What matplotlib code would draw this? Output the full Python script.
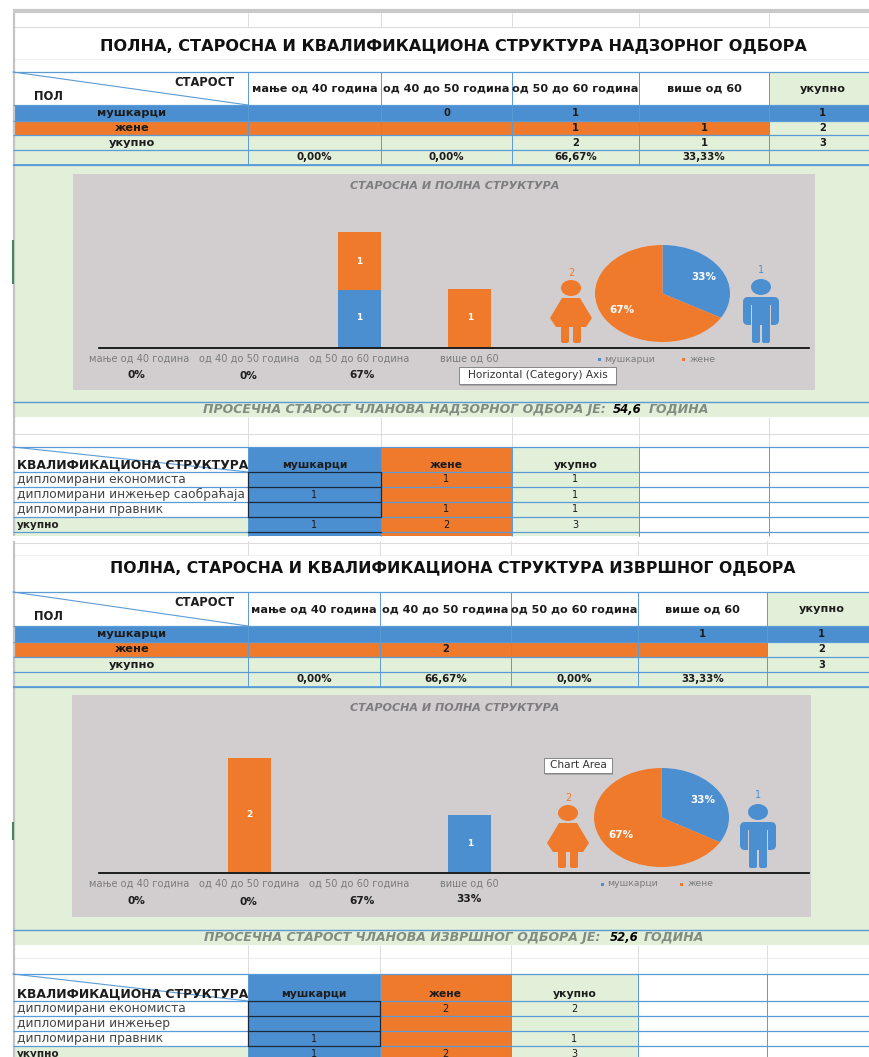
"""Spreadsheet screenshot: board structure tables with bar and pie charts."""

import matplotlib
matplotlib.use("Agg")
import matplotlib.pyplot as plt
from matplotlib.patches import Ellipse, FancyBboxPatch, Polygon, Rectangle

BLUE = "#4b8fd1"
ORANGE = "#f07a2b"
GREEN = "#e2efd9"
CHART_GREY = "#d2ced0"
GRID = "#5b9bd5"
LIGHT = "#dcdcdc"
TEXT = "#1c1c1c"
CELL_FONT = ["DejaVu Sans"]

W, H = 870, 1057

age_labels = ["мање од 40 година", "од 40 до 50 година", "од 50 до 60 година", "више од 60"]
chart_age_labels = ["мање од 40 година", "од 40 до 50 година", "од 50 до 60 година", "више од 60"]
row_labels = ["мушкарци", "жене", "укупно"]

sup_title = "ПОЛНА, СТАРОСНА И КВАЛИФИКАЦИОНА СТРУКТУРА НАДЗОРНОГ ОДБОРА"
sup_men = ["", "0", "1", "", "1"]
sup_women = ["", "", "1", "1", "2"]
sup_total = ["", "", "2", "1", "3"]
sup_share = ["0,00%", "0,00%", "66,67%", "33,33%", ""]
sup_bar_men = [0, 0, 1, 0]
sup_bar_women = [0, 0, 1, 1]
sup_pct_row = ["0%", "0%", "67%", ""]
sup_pie = [1, 2]
sup_avg_text = "ПРОСЕЧНА СТАРОСТ ЧЛАНОВА НАДЗОРНОГ ОДБОРА ЈЕ:"
sup_avg = "54,6"
sup_qual = ["дипломирани економиста", "дипломирани инжењер саобраћаја", "дипломирани правник", "укупно"]
sup_qual_men = ["", "1", "", "1"]
sup_qual_women = ["1", "", "1", "2"]
sup_qual_total = ["1", "1", "1", "3"]

exe_title = "ПОЛНА, СТАРОСНА И КВАЛИФИКАЦИОНА СТРУКТУРА ИЗВРШНОГ ОДБОРА"
exe_men = ["", "", "", "1", "1"]
exe_women = ["", "2", "", "", "2"]
exe_total = ["", "", "", "", "3"]
exe_share = ["0,00%", "66,67%", "0,00%", "33,33%", ""]
exe_bar_men = [0, 0, 0, 1]
exe_bar_women = [0, 2, 0, 0]
exe_pct_row = ["0%", "0%", "67%", "33%"]
exe_pie = [1, 2]
exe_avg_text = "ПРОСЕЧНА СТАРОСТ ЧЛАНОВА ИЗВРШНОГ ОДБОРА ЈЕ:"
exe_avg = "52,6"
exe_qual = ["дипломирани економиста", "дипломирани инжењер", "дипломирани правник", "укупно"]
exe_qual_men = ["", "", "1", "1"]
exe_qual_women = ["2", "", "", "2"]
exe_qual_total = ["2", "", "1", "3"]

fig = plt.figure(figsize=(W / 100, H / 100), dpi=100, facecolor="white")
sheet = fig.add_axes([0, 0, 1, 1])
sheet.set_xlim(0, W)
sheet.set_ylim(H, 0)
sheet.axis("off")


def rect(x0, y0, x1, y1, color, z=1):
    sheet.add_patch(Rectangle((x0, y0), x1 - x0, y1 - y0, facecolor=color, edgecolor="none", zorder=z))


def hline(y, x0=13, x1=W, color=GRID, lw=0.9, z=3):
    sheet.plot([x0, x1], [y, y], color=color, lw=lw, zorder=z, solid_capstyle="butt")


def vline(x, y0, y1, color=GRID, lw=0.7, z=3):
    sheet.plot([x, x], [y0, y1], color=color, lw=lw, zorder=z, solid_capstyle="butt")


def cell(x, y, s, size=7.2, bold=True, ha="center", color=TEXT):
    sheet.text(x, y, s, fontsize=size, fontweight="bold" if bold else "normal", ha=ha, va="center",
               color=color, family=CELL_FONT, zorder=5)


def age_table(cols, ys, men, women, total, share):
    # ys = header top, header bottom, then the lower edge of each of the four rows
    top, head, r1, r2, r3, r4 = ys
    rect(13, head, W, r1, BLUE)
    rect(13, r1, cols[4], r2, ORANGE)
    rect(cols[4], r1, W, r2, GREEN)
    rect(13, r2, W, r4, GREEN)
    rect(cols[4], top, W, head, GREEN)
    for y in ys:
        hline(y)
    hline(r4, lw=1.3)
    for x in cols[:5]:
        vline(x, top, r4)
    sheet.plot([13, cols[0]], [top, head], color=GRID, lw=0.8, zorder=3)
    cell(235, top + 11, "СТАРОСТ", size=8.3, ha="right")
    cell(34, top + 25, "ПОЛ", size=8.3, ha="left")
    centers = [(a + b) / 2 for a, b in zip(cols[:4], cols[1:5])] + [(cols[4] + W) / 2 + 3]
    for c, lab in zip(centers, age_labels + ["укупно"]):
        cell(c, (top + head) / 2, lab, size=8.1)
    for i, (lab, vals, r) in enumerate(zip(row_labels, [men, women, total], [(head, r1), (r1, r2), (r2, r3)])):
        y = sum(r) / 2
        cell(132, y, lab, size=8.2)
        for c, v in zip(centers, vals):
            cell(c, y, v)
    for c, v in zip(centers, share):
        cell(c, (r3 + r4) / 2, v, size=7.4)


def qual_table(cols, ys, labels, men, women, total, cut):
    top, head = ys[0], ys[1]
    rect(cols[0], top, cols[1], cut, BLUE)
    rect(cols[1], top, cols[2], cut, ORANGE)
    rect(cols[2], top, cols[3], cut, GREEN)
    rect(13, ys[4], cols[0], cut, GREEN)
    for y in ys:
        if y <= H:
            hline(y)
    for x in cols:
        vline(x, top, cut)
    sheet.plot([13, cols[0]], [top, head], color=GRID, lw=0.8, zorder=3)
    cell(17, head - 7, "КВАЛИФИКАЦИОНА СТРУКТУРА", size=8.9, ha="left")
    centers = [(a + b) / 2 for a, b in zip(cols[:3], cols[1:4])]
    for c, lab in zip(centers, ["мушкарци", "жене", "укупно"]):
        cell(c, head - 7, lab, size=7.8)
    for y in ys[1:]:
        sheet.plot([cols[0], cols[1]], [y, y], color="#1b2a3a", lw=0.9, zorder=4)
    vline(cols[0], head, ys[4], color="#1b2a3a", lw=0.9)
    vline(cols[1], head, ys[4], color="#1b2a3a", lw=0.9)
    for i, lab in enumerate(labels):
        y = (ys[i + 1] + min(ys[i + 2], cut)) / 2
        if ys[i + 2] > H:
            y = ys[i + 1] + 8
        is_total = lab == "укупно"
        cell(17, y, lab, size=7.6 if is_total else 8.8, bold=is_total, ha="left", color="#222222" if is_total else "#444444")
        for c, v in zip(centers, [men[i], women[i], total[i]]):
            cell(c, y, v, size=7, bold=False)


def person(cx, head_y, feet_y, color, dress):
    sheet.add_patch(Ellipse((cx, head_y), 20, 16, facecolor=color, edgecolor="none", zorder=5))
    top = head_y + 10
    if dress:
        sheet.add_patch(Polygon([(cx - 9, top), (cx + 9, top), (cx + 21, top + 20), (cx + 15, top + 29), (cx - 15, top + 29),
                                 (cx - 21, top + 20)],
                                facecolor=color, edgecolor="none", zorder=5))
        for dx in (-10, 2):
            sheet.add_patch(FancyBboxPatch((cx + dx, top + 26), 8, feet_y - top - 26, boxstyle="round,pad=0,rounding_size=2",
                                           facecolor=color, edgecolor="none", zorder=5))
    else:
        sheet.add_patch(FancyBboxPatch((cx - 18, top), 36, 28, boxstyle="round,pad=0,rounding_size=5",
                                       facecolor=color, edgecolor="none", zorder=5))
        sheet.add_patch(Rectangle((cx - 10, top + 8), 1.2, 21, facecolor=CHART_GREY, zorder=6))
        sheet.add_patch(Rectangle((cx + 9, top + 8), 1.2, 21, facecolor=CHART_GREY, zorder=6))
        for dx in (-9, 1):
            sheet.add_patch(FancyBboxPatch((cx + dx, top + 24), 8, feet_y - top - 24, boxstyle="round,pad=0,rounding_size=2",
                                           facecolor=color, edgecolor="none", zorder=5))


def px_axes(x0, y0, x1, y1):
    ax = fig.add_axes([x0 / W, 1 - y1 / H, (x1 - x0) / W, (y1 - y0) / H])
    ax.patch.set_alpha(0)
    return ax


def bar_chart(x0, x1, base, men, women, tick_labels):
    unit = 57
    ax = px_axes(x0, base - 2.2 * unit, x1, base)
    xs = range(len(men))
    bar_m = ax.bar(xs, men, width=0.39, color=BLUE)
    bar_w = ax.bar(xs, women, width=0.39, bottom=men, color=ORANGE)
    for bars, vals in ((bar_m, men), (bar_w, women)):
        ax.bar_label(bars, labels=[str(v) if v else "" for v in vals], label_type="center",
                     color="white", fontsize=6.5, fontweight="bold", family=CELL_FONT)
    ax.set_xlim(-0.5, len(men) - 0.5)
    ax.set_ylim(0, 2.2)
    ax.set_yticks([])
    ax.set_xticks(list(xs), tick_labels, fontsize=7.1, color="#7b7b7b", family=CELL_FONT)
    ax.tick_params(axis="x", length=0, pad=5)
    for s in ax.spines.values():
        s.set_visible(False)


def pie_chart(x0, y0, x1, y1, vals):
    ax = px_axes(x0, y0, x1, y1)
    ax.pie(vals, colors=[BLUE, ORANGE], startangle=90, counterclock=False, autopct="%1.0f%%", pctdistance=0.7,
           textprops={"color": "white", "fontsize": 7.5, "fontweight": "bold", "family": CELL_FONT})
    ax.set_aspect("auto")
    ax.set_xlim(-1, 1)
    ax.set_ylim(-1, 1)


def tooltip(x0, y0, x1, y1, s):
    sheet.add_patch(Rectangle((x0 + 1.5, y0 + 1.5), x1 - x0, y1 - y0, facecolor="#a8a8a8", edgecolor="none", zorder=7))
    sheet.add_patch(Rectangle((x0, y0), x1 - x0, y1 - y0, facecolor="white", edgecolor="#777777", lw=0.6, zorder=8))
    sheet.text((x0 + x1) / 2, (y0 + y1) / 2, s, fontsize=7.6, color="#333333", ha="center", va="center",
               family=CELL_FONT, zorder=9)


def chart_panel(box, axis_y, title_y, label_men_x, label_women_x, pct_xs, pct_ys, men, women, pct_row, pie, pie_box,
                woman, man):
    x0, y0, x1, y1 = box
    rect(x0, y0, x1, y1, CHART_GREY, z=2)
    sheet.text(455, title_y, "СТАРОСНА И ПОЛНА СТРУКТУРА", fontsize=8, style="italic",
               fontweight="bold", color="#7d7d80", ha="center", va="center", family=CELL_FONT, zorder=4)
    sheet.plot([99, 809], [axis_y, axis_y], color="black", lw=1.2, zorder=4)
    bar_chart(84, 525, axis_y - 1.5, men, women, chart_age_labels)
    pie_chart(*pie_box, pie)
    person(woman[0], woman[1], axis_y - 5, ORANGE, True)
    person(man[0], man[1], axis_y - 5, BLUE, False)
    sheet.text(woman[0], woman[1] - 15, str(pie[1]), fontsize=7, color=ORANGE, ha="center", va="center", zorder=5)
    sheet.text(man[0], man[1] - 17, str(pie[0]), fontsize=7, color=BLUE, ha="center", va="center", zorder=5)
    leg_y = axis_y + 11
    rect(label_men_x - 32, leg_y - 1, label_men_x - 29, leg_y + 2, BLUE, z=4)
    rect(label_women_x - 21, leg_y - 1, label_women_x - 18, leg_y + 2, ORANGE, z=4)
    sheet.text(label_men_x, leg_y, row_labels[0], fontsize=6.7, color="#7b7b7b", ha="center", va="center",
               family=CELL_FONT, zorder=4)
    sheet.text(label_women_x, leg_y, row_labels[1], fontsize=6.7, color="#7b7b7b", ha="center", va="center",
               family=CELL_FONT, zorder=4)
    for x, y, s in zip(pct_xs, pct_ys, pct_row):
        cell(x, y, s, size=7.6)


def avg_band(top, bottom, text_right, text, value, value_x, unit_x):
    rect(13, top, W, bottom, GREEN, z=1)
    hline(top, lw=1.0)
    sheet.text(text_right, (top + bottom) / 2, text, fontsize=9, style="italic", fontweight="bold", color="#7f8c80",
               ha="right", va="center", family=CELL_FONT, zorder=4)
    sheet.text(value_x, (top + bottom) / 2, value, fontsize=8.4, style="italic", fontweight="bold", color="black",
               ha="center", va="center", family=CELL_FONT, zorder=4)
    sheet.text(unit_x, (top + bottom) / 2, "ГОДИНА", fontsize=9, style="italic", fontweight="bold", color="#7f8c80",
               ha="left", va="center", family=CELL_FONT, zorder=4)


# --- plain sheet background ---
cols1 = [248, 381, 512, 639, 769]
cols2 = [248, 380, 511, 638, 767]
hline(11, color="#c9c9c9", lw=3)
hline(27, color=LIGHT, lw=0.8)
hline(59, color="#eeeeee", lw=0.8)
hline(434, color=LIGHT, lw=0.8)
hline(543, color=LIGHT, lw=0.8)
hline(555, color="#eeeeee", lw=0.8)
hline(958, color="#eeeeee", lw=0.8)
for x in cols1:
    vline(x, 13, 27, color=LIGHT)
    vline(x, 417, 447, color=LIGHT)
for x in cols2:
    vline(x, 536, 555, color=LIGHT)
    vline(x, 945, 974, color=LIGHT)
vline(14, 13, 536, color="#c4c4c4", lw=1.6)
vline(14, 540, H, color="#c4c4c4", lw=1.6)
rect(12, 240, 14, 284, "#3d8a55", z=5)
rect(12, 822, 14, 840, "#3d8a55", z=5)

# --- supervisory board ---
sheet.text(453, 47, sup_title, fontsize=11.6, fontweight="bold", color="#111111", ha="center", va="center",
           family=CELL_FONT, zorder=5)
age_table(cols1, [72, 105, 121, 135, 150, 165], sup_men, sup_women, sup_total, sup_share)
rect(13, 165, W, 402, GREEN)
chart_panel((73, 174, 815, 390), 348, 186, 630, 703, [136, 248, 362], [375, 376, 375], sup_bar_men, sup_bar_women,
            sup_pct_row, sup_pie, (595, 245, 730, 342), (571, 288), (761, 287))
tooltip(459, 367, 616, 384, "Horizontal (Category) Axis")
avg_band(402, 417, 606, sup_avg_text, sup_avg, 627, 649)
qual_table(cols1[:4], [447, 472, 487, 502, 517, 532], sup_qual, sup_qual_men, sup_qual_women, sup_qual_total, 536)
for x in cols1[3:]:
    vline(x, 447, 536)
rect(0, 536.5, W, 541, "white", z=4)

# --- executive board ---
sheet.text(453, 568, exe_title, fontsize=11.3, fontweight="bold", color="#111111", ha="center", va="center",
           family=CELL_FONT, zorder=5)
age_table(cols2, [592, 626, 642, 657, 672, 687], exe_men, exe_women, exe_total, exe_share)
rect(13, 687, W, 930, GREEN)
chart_panel((72, 695, 811, 917), 873, 708, 633, 701, [136, 248, 362, 469], [901, 902, 901, 899], exe_bar_men,
            exe_bar_women, exe_pct_row, exe_pie, (594, 768, 729, 867), (568, 813), (758, 812))
tooltip(544, 758, 612, 773, "Chart Area")
avg_band(930, 945, 600, exe_avg_text, exe_avg, 624, 644)
qual_table(cols2[:4], [974, 1001, 1016, 1031, 1046, 1061], exe_qual, exe_qual_men, exe_qual_women, exe_qual_total, H)
for x in cols2[3:]:
    vline(x, 974, H)

fig.savefig("out.png", dpi=100)
plt.close(fig)
